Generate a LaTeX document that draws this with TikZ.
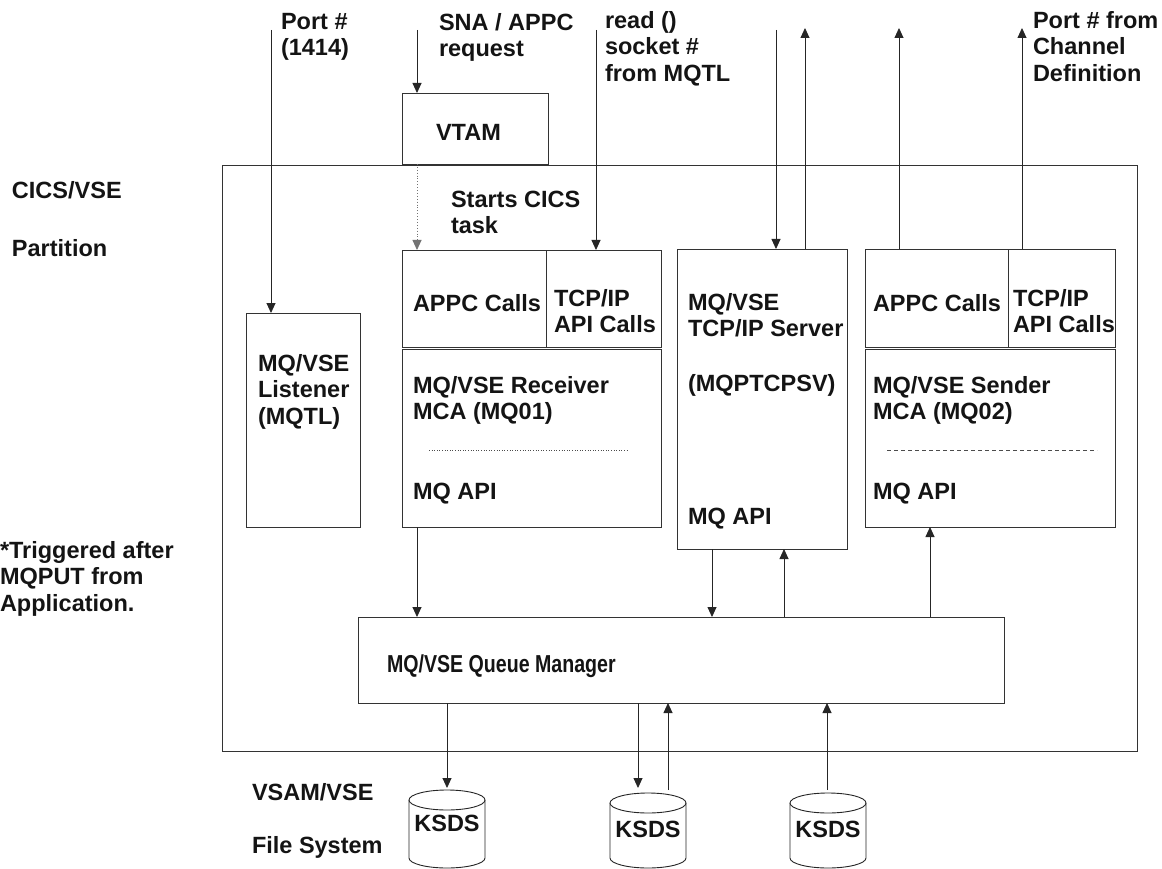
\documentclass[tikz,border=0pt]{standalone}
\usepackage{fontspec}
\setmainfont{Liberation Sans}
\newfontfamily\narrowfont[FakeStretch=0.8]{Liberation Sans}
\usetikzlibrary{arrows.meta}
\begin{document}
\begin{tikzpicture}[x=1pt,y=-1pt,
  every node/.style={inner sep=0pt, outer sep=0pt},
  txt/.style={anchor=north west, align=left, font=\fontsize{23.5}{26.5}\selectfont\bfseries, text=black!92},
  box/.style={draw=black!80, line width=0.9pt, anchor=north west, fill=white},
  arr/.style={draw=black!85, line width=0.9pt, -{Triangle[length=10pt,width=9pt]}},
  cyl/.style={draw=black!85, line width=0.9pt, fill=white},
  sep/.style={draw=black!70, line width=0.6pt}]
\useasboundingbox (0,0) rectangle (1162,869);

% boxes
\node[box, minimum width=915pt, minimum height=586pt] (cics) at (222,165) {};
\node[box, minimum width=146pt, minimum height=71pt] (vtam) at (402,93) {};
\node[box, minimum width=114pt, minimum height=214pt] (lis) at (246,313) {};
\node[box, minimum width=144pt, minimum height=97pt] (rcvA) at (402,250) {};
\node[box, minimum width=115pt, minimum height=97pt] (rcvT) at (546,250) {};
\node[box, minimum width=259pt, minimum height=178pt] (rcvB) at (402,349) {};
\node[box, minimum width=170pt, minimum height=300pt] (srv) at (677,249) {};
\node[box, minimum width=143pt, minimum height=98pt] (sndA) at (865,249) {};
\node[box, minimum width=107pt, minimum height=98pt] (sndT) at (1008,249) {};
\node[box, minimum width=250pt, minimum height=178pt] (sndB) at (865,349) {};
\node[box, minimum width=646pt, minimum height=86pt] (qm) at (358,617) {};

% separators inside MCA boxes
\draw[sep, dotted] (429,450) -- (629,450);
\draw[sep, dash pattern=on 4pt off 3pt] (887,450) -- (1097,450);

% cylinders
\draw[cyl] (409,800) -- (409,858) arc[start angle=180, end angle=360, x radius=38pt, y radius=10pt] -- (485,800);
\draw[cyl] (447,800) ellipse[x radius=38pt, y radius=10pt];
\node[minimum width=76pt, minimum height=78pt, anchor=north] (c1) at (447,790) {};
\draw[cyl] (610,803) -- (610,858) arc[start angle=180, end angle=360, x radius=38pt, y radius=10pt] -- (686,803);
\draw[cyl] (648,803) ellipse[x radius=38pt, y radius=10pt];
\node[minimum width=76pt, minimum height=75pt, anchor=north] (c2) at (648,793) {};
\draw[cyl] (790,803) -- (790,858) arc[start angle=180, end angle=360, x radius=38pt, y radius=10pt] -- (866,803);
\draw[cyl] (828,803) ellipse[x radius=38pt, y radius=10pt];
\node[minimum width=76pt, minimum height=75pt, anchor=north] (c3) at (828,793) {};

% texts
\node[txt] at (281,13) {Port \#\\(1414)};
\node[txt] at (439,13) {SNA / APPC\\request};
\node[txt] at (605,11) {read ()\\socket \#\\from MQTL};
\node[txt] at (1033,11) {Port \# from\\Channel\\Definition};
\node[txt] at (436,124) {VTAM};
\node[txt] at (451,191) {Starts CICS\\task};
\node[txt] at (12,181) {CICS/VSE};
\node[txt] at (12,239) {Partition};
\node[txt] at (0,541) {*Triggered after\\MQPUT from\\Application.};
\node[txt] at (258,354) {MQ/VSE\\Listener\\(MQTL)};
\node[txt] at (413,294) {APPC Calls};
\node[txt] at (554,289) {TCP/IP\\API Calls};
\node[txt] at (413,376) {MQ/VSE Receiver\\MCA (MQ01)};
\node[txt] at (413,483) {MQ API};
\node[txt] at (688,293) {MQ/VSE\\TCP/IP Server};
\node[txt] at (688,374) {(MQPTCPSV)};
\node[txt] at (688,508) {MQ API};
\node[txt] at (873,294) {APPC Calls};
\node[txt] at (1013,289) {TCP/IP\\API Calls};
\node[txt] at (873,376) {MQ/VSE Sender\\MCA (MQ02)};
\node[txt] at (873,483) {MQ API};
\node[txt] at (387,655) {\narrowfont\fontsize{24.5}{26.5}\selectfont MQ/VSE Queue Manager};
\node[txt] at (252,783) {VSAM/VSE};
\node[txt] at (252,836) {File System};
\node[txt, anchor=center] at (447,823) {KSDS};
\node[txt, anchor=center] at (648,829) {KSDS};
\node[txt, anchor=center] at (828,829) {KSDS};

% top connectors
\coordinate (inPort) at (271,30);
\draw[arr] (inPort) -- (inPort |- lis.north);
\coordinate (inSna) at (417,30);
\draw[arr] (inSna) -- (inSna |- vtam.north);
\draw[arr, draw=black!55, dotted] ([xshift=15pt]vtam.south west) -- ([xshift=15pt]rcvA.north west);
\coordinate (inRead) at (596,30);
\draw[arr] (inRead) -- (inRead |- rcvT.north);
\coordinate (inSrv) at (776,30);
\draw[arr] (inSrv) -- (inSrv |- srv.north);
\coordinate (outSrv) at (805,28);
\draw[arr] (outSrv |- srv.north) -- (outSrv);
\coordinate (outA) at (899,28);
\draw[arr] (outA |- sndA.north) -- (outA);
\coordinate (outB) at (1022,28);
\draw[arr] (outB |- sndT.north) -- (outB);

% queue manager connectors
\draw[arr] ([xshift=15pt]rcvB.south west) -- ([xshift=15pt]rcvB.south west |- qm.north);
\draw[arr] ([xshift=35pt]srv.south west) -- ([xshift=35pt]srv.south west |- qm.north);
\draw[arr] ([xshift=107pt]srv.south west |- qm.north) -- ([xshift=107pt]srv.south west);
\draw[arr] ([xshift=65pt]sndB.south west |- qm.north) -- ([xshift=65pt]sndB.south west);

% file connectors
\draw[arr] (c1.north |- qm.south) -- ([yshift=2pt]c1.north);
\draw[arr] ([xshift=-10pt]c2.north |- qm.south) -- ([xshift=-10pt,yshift=5pt]c2.north);
\draw[arr] ([xshift=20pt,yshift=3pt]c2.north) -- ([xshift=20pt]c2.north |- qm.south);
\draw[arr] ([xshift=-1pt,yshift=3pt]c3.north) -- ([xshift=-1pt]c3.north |- qm.south);
\end{tikzpicture}
\end{document}
